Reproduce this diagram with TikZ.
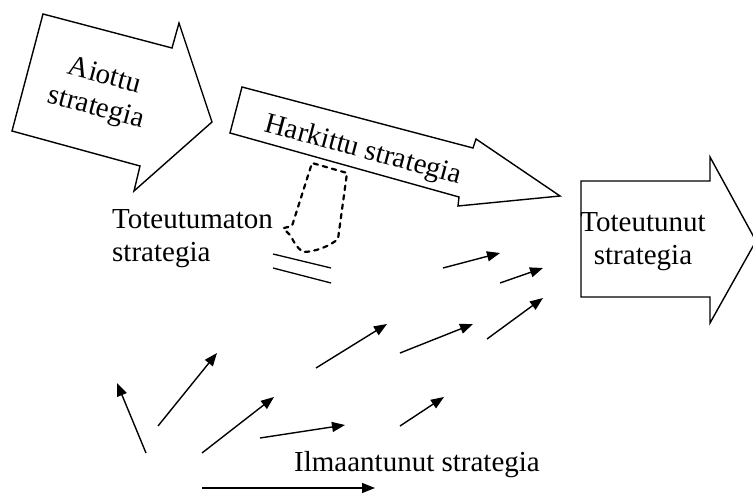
\documentclass[tikz,border=0pt]{standalone}
\usepackage{fontspec}
\setmainfont{Liberation Serif}
\usetikzlibrary{arrows.meta}
\begin{document}
\begin{tikzpicture}[x=1pt,y=-1pt,
  bigarrow/.style={draw=black,line width=1.4pt,line join=miter,fill=white},
  lbl/.style={font=\fontsize{29}{33}\selectfont,align=center,inner sep=0pt},
  flow/.style={line width=1.4pt,-{Triangle[length=13pt,width=10pt]}},
  unreal/.style={line width=2.2pt,dash pattern=on 4.5pt off 5pt,line cap=round}]
\useasboundingbox (0,0) rectangle (753,494);

% intended strategy
\draw[bigarrow] (43,14) -- (172,48) -- (179,23) -- (212,122) -- (134,191) -- (140,166) -- (12,131) -- cycle;
\node[lbl,rotate=-15] (aiottu) at (100,93) {Aiottu\\strategia};

% deliberate strategy
\draw[bigarrow] (242,87) -- (473,148) -- (476,139) -- (560,196) -- (458,206) -- (459,197) -- (230,133) -- cycle;
\node[lbl,rotate=-15] (harkittu) at (363,151) {Harkittu strategia};

% realised strategy
\draw[bigarrow] (581,181) -- (710,181) -- (710,157) -- (756,241) -- (710,323) -- (710,297) -- (581,297) -- cycle;
\node[lbl] (toteutunut) at (643,242) {Toteutunut\\strategia};

% unrealised strategy
\draw[unreal] (284,228) -- (292,226) -- (312,163) -- (347,173) -- (338,239)
  .. controls (330,246) and (315,252) .. (303,252)
  .. controls (297,248) and (293,241) .. (291,236) -- (284,229);
\draw[line width=1.3pt] (273,254) -- (331,268);
\draw[line width=1.3pt] (273,268) -- (331,283);
\node[lbl,align=left,anchor=west] (toteutumaton) at (112,239) {Toteutumaton\\strategia};

% emergent strategy
\node[lbl] (ilmaantunut) at (417,465) {Ilmaantunut strategia};
\coordinate (a1) at (146,453); \coordinate (b1) at (117,383);
\coordinate (a2) at (158,426); \coordinate (b2) at (217,353);
\coordinate (a3) at (202,453); \coordinate (b3) at (274,397);
\coordinate (a4) at (260,438); \coordinate (b4) at (345,425);
\coordinate (a5) at (316,368); \coordinate (b5) at (387,324);
\coordinate (a6) at (400,353); \coordinate (b6) at (473,324);
\coordinate (a7) at (400,426); \coordinate (b7) at (444,397);
\coordinate (a8) at (443,268); \coordinate (b8) at (500,253);
\coordinate (a9) at (500,283); \coordinate (b9) at (543,268);
\coordinate (a10) at (487,339); \coordinate (b10) at (543,298);
\coordinate (a11) at (202,488); \coordinate (b11) at (375,488);
\foreach \i in {1,...,11} \draw[flow] (a\i) -- (b\i);
\end{tikzpicture}
\end{document}
